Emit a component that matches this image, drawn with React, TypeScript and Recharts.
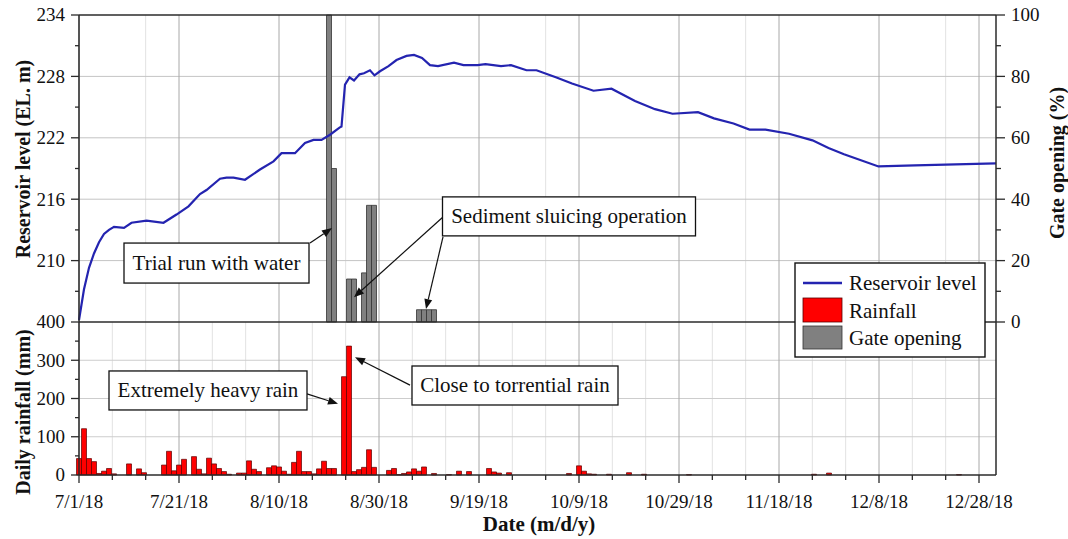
import {
  ComposedChart,
  Line,
  Bar,
  XAxis,
  YAxis,
  CartesianGrid,
  ReferenceLine,
  ReferenceDot,
} from 'recharts'

const FONT = '"Liberation Serif", "Times New Roman", serif'
const AXIS = '#2b2b2b'
const INK = '#111'

// day 0 = 7/1/18, axis runs to the end of December
const X_END = 183.4

// Reservoir level (EL. m)
const levelDay = [
  0, 1, 2, 3, 4, 5, 6, 7, 9, 10.5, 13.5, 16.9, 19.5, 21.9, 24.2, 25.5, 28.2, 29.5, 30.9, 33.2,
  36.2, 38.9, 40.5, 43.2, 45.2, 46.9, 48.5, 50.2, 52.1, 52.5, 53.2, 54.1, 55, 56.1, 57, 58.2,
  59.1, 60.2, 61.9, 63.5, 65.5, 67, 68.6, 70.2, 71.8, 75, 76.9, 79.7, 81.3, 84.4, 86.4, 89.5,
  91.5, 95.5, 98.6, 102.9, 106.5, 111.2, 115.2, 118.7, 123.8, 127, 130.9, 134.1, 137.3, 142,
  146.7, 149.9, 153, 159.9, 167.2, 183.4,
]
const levelM = [
  204.2, 207.2, 209.3, 210.7, 211.8, 212.6, 213.0, 213.3, 213.2, 213.7, 213.9, 213.7, 214.5,
  215.3, 216.5, 216.9, 218.0, 218.1, 218.1, 217.9, 218.9, 219.7, 220.5, 220.5, 221.5, 221.8,
  221.8, 222.3, 223.0, 223.1, 227.2, 227.9, 227.6, 228.2, 228.3, 228.6, 228.1, 228.5, 229.0,
  229.6, 230.0, 230.1, 229.8, 229.1, 229.0, 229.35, 229.1, 229.1, 229.2, 229.0, 229.1, 228.6,
  228.6, 227.9, 227.3, 226.6, 226.8, 225.6, 224.8, 224.35, 224.5, 223.9, 223.4, 222.8, 222.8,
  222.4, 221.75, 221.0, 220.4, 219.2, 219.3, 219.5,
]

// Gate opening (%)
const gateDay = [50, 51, 54, 55, 57, 58, 59, 68, 69, 70, 71]
const gatePct = [100, 50, 14, 14, 16, 38, 38, 4, 4, 4, 4]

// Daily rainfall (mm)
const rainDay = [
  0, 1, 2, 3, 4, 5, 6, 7, 10, 12, 13, 17, 18, 19, 20, 21, 23, 24, 25, 26, 27, 28, 29, 30, 32, 33,
  34, 35, 36, 38, 39, 40, 41, 42, 43, 44, 45, 46, 47, 48, 49, 50, 51, 53, 54, 55, 56, 57, 58, 59,
  62, 63, 64, 65, 66, 67, 68, 69, 71, 74, 76, 78, 82, 83, 84, 86, 98, 100, 101, 102, 103, 106,
  110, 113, 122, 147, 150, 176,
]
const rainMm = [
  43, 121, 43, 35, 4, 10, 17, 3, 29, 16, 6, 26, 62, 11, 26, 41, 48, 15, 3, 44, 29, 17, 9, 2, 5, 5,
  37, 15, 9, 19, 24, 21, 10, 2, 33, 62, 9, 9, 3, 16, 36, 17, 17, 257, 337, 9, 14, 20, 66, 20,
  12, 17, 1, 4, 8, 16, 10, 21, 4, 1, 10, 9, 17, 8, 5, 6, 4, 24, 10, 3, 2, 2,
  6, 2, 1, 2, 5, 1,
]

const xTickLabels = [
  '7/1/18', '7/21/18', '8/10/18', '8/30/18', '9/19/18',
  '10/9/18', '10/29/18', '11/18/18', '12/8/18', '12/28/18',
]
const levelTicks = [207, 210, 213, 216, 219, 222, 225, 228, 231, 234]
const gateTicks = [0, 10, 20, 30, 40, 50, 60, 70, 80, 90, 100]
const rainTicks = [0, 50, 100, 150, 200, 250, 300, 350, 400]

const majorDays = xTickLabels.map((_, i) => i * 20)
const allDays = Array.from({ length: 28 }, (_, k) => (k * 20) / 3)
const minorDays = allDays.filter((_, k) => k % 3 !== 0)

const levelData = levelDay.map((day, i) => ({ day, level: levelM[i] }))
const gateData = gateDay.map((day, i) => ({ day, gate: gatePct[i] }))
const rainData = rainDay.map((day, i) => ({ day, rain: rainMm[i] }))

// annotation boxes, placed in data units of their panel
const topNotes = [
  { text: 'Trial run with water', day: 27.5, y: 19.2, w: 185, h: 40 },
  { text: 'Sediment sluicing operation', day: 98, y: 34.4, w: 253, h: 39 },
]
const topArrows = [
  { from: [46.2, 25.7], to: [50.6, 30.6] },
  { from: [72.8, 34.2], to: [55, 8.1] },
  { from: [72.8, 27.7], to: [69.4, 4.2] },
]
const rainNotes = [
  { text: 'Extremely heavy rain', day: 25.8, y: 221, w: 198, h: 39 },
  { text: 'Close to torrential rain', day: 87.2, y: 234, w: 206, h: 39 },
]
const rainArrows = [
  { from: [45.6, 212], to: [51.8, 186] },
  { from: [66.2, 235], to: [55.2, 308] },
]

interface TickProps {
  x?: number
  y?: number
  payload?: { value: number }
}

function isMajor(v: number, base: number, step: number) {
  const r = (v - base) / step
  return Math.abs(r - Math.round(r)) < 1e-6
}

function LeftTick({ x = 0, y = 0, payload, base, step }: TickProps & { base: number; step: number }) {
  const v = payload?.value ?? 0
  const major = isMajor(v, base, step)
  return (
    <g>
      <line x1={x - (major ? 8 : 4)} y1={y} x2={x} y2={y} stroke={AXIS} strokeWidth={1.3} />
      {major && (
        <text x={x - 14} y={y} dy="0.34em" textAnchor="end" fontFamily={FONT} fontSize={19} fill={INK}>
          {v}
        </text>
      )}
    </g>
  )
}

function RightTick({ x = 0, y = 0, payload }: TickProps) {
  const v = payload?.value ?? 0
  const major = isMajor(v, 0, 20)
  return (
    <g>
      <line x1={x} y1={y} x2={x + (major ? 9 : 5)} y2={y} stroke={AXIS} strokeWidth={1.3} />
      {major && (
        <text x={x + 15} y={y} dy="0.34em" textAnchor="start" fontFamily={FONT} fontSize={19} fill={INK}>
          {v}
        </text>
      )}
    </g>
  )
}

function DateTick({ x = 0, y = 0, payload }: TickProps) {
  const v = payload?.value ?? 0
  const major = isMajor(v, 0, 20)
  return (
    <g>
      <line x1={x} y1={y} x2={x} y2={y + (major ? 8 : 5)} stroke={AXIS} strokeWidth={1.3} />
      {major && (
        <text x={x} y={y + 33} textAnchor="middle" fontFamily={FONT} fontSize={19} fill={INK}>
          {xTickLabels[Math.round(v / 20)]}
        </text>
      )}
    </g>
  )
}

function NoteBox({ cx = 0, cy = 0, text, w, h }: { cx?: number; cy?: number; text: string; w: number; h: number }) {
  return (
    <g>
      <rect x={cx - w / 2} y={cy - h / 2} width={w} height={h} fill="#fff" stroke={INK} strokeWidth={1.3} />
      <text x={cx} y={cy} dy="0.33em" textAnchor="middle" fontFamily={FONT} fontSize={21} fill={INK}>
        {text}
      </text>
    </g>
  )
}

function Arrow(props: { x1?: number | string; y1?: number | string; x2?: number | string; y2?: number | string }) {
  const x1 = Number(props.x1), y1 = Number(props.y1), x2 = Number(props.x2), y2 = Number(props.y2)
  const a = Math.atan2(y2 - y1, x2 - x1)
  const L = 10, W = 4
  const bx = x2 - L * Math.cos(a), by = y2 - L * Math.sin(a)
  const px = -Math.sin(a) * W, py = Math.cos(a) * W
  return (
    <g>
      <line x1={x1} y1={y1} x2={bx} y2={by} stroke={INK} strokeWidth={1.2} />
      <polygon points={`${x2},${y2} ${bx + px},${by + py} ${bx - px},${by - py}`} fill={INK} />
    </g>
  )
}

const title: React.CSSProperties = {
  position: 'absolute',
  fontFamily: FONT,
  fontWeight: 'bold',
  fontSize: 20,
  color: INK,
  whiteSpace: 'nowrap',
  lineHeight: 1,
}

function LegendBox() {
  return (
    <svg width={194} height={98} style={{ position: 'absolute', left: 794, top: 262 }}>
      <rect x={1} y={1} width={190} height={94} fill="#fff" stroke={INK} strokeWidth={1.4} />
      <line x1={9} y1={21} x2={48} y2={21} stroke="#2424b0" strokeWidth={2.4} />
      <rect x={9} y={36} width={39} height={24} fill="#ff0000" stroke="#5a0000" strokeWidth={0.8} />
      <rect x={9} y={64} width={39} height={23} fill="#808080" stroke="#333" strokeWidth={0.8} />
      <g fontFamily={FONT} fontSize={21} fill={INK}>
        <text x={55} y={28}>Reservoir level</text>
        <text x={55} y={56}>Rainfall</text>
        <text x={55} y={83}>Gate opening</text>
      </g>
    </svg>
  )
}

export default function App() {
  return (
    <div style={{ position: 'absolute', left: 0, top: 0, width: 1068, height: 539, background: '#fff' }}>
      {/* Lower panel: daily rainfall */}
      <div style={{ position: 'absolute', left: 0, top: 0 }}>
        <ComposedChart
          width={1068}
          height={539}
          data={rainData}
          margin={{ top: 322, right: 72, bottom: 24, left: 19 }}
          barCategoryGap={0}
          barGap={0}
        >
          <CartesianGrid verticalValues={minorDays} horizontal={false} stroke="#e2e2e2" />
          <CartesianGrid horizontalValues={[100, 200, 300]} vertical={false} stroke="#cdcdcd" />
          <CartesianGrid verticalValues={majorDays} horizontal={false} stroke="#a8a8a8" />
          <XAxis
            dataKey="day"
            type="number"
            domain={[0, X_END]}
            ticks={allDays}
            interval={0}
            height={40}
            tickSize={0}
            tickMargin={0}
            tickLine={false}
            axisLine={{ stroke: AXIS, strokeWidth: 1.5 }}
            tick={(p: TickProps) => <DateTick {...p} />}
          />
          <YAxis
            domain={[0, 400]}
            ticks={rainTicks}
            interval={0}
            width={60}
            tickSize={0}
            tickMargin={0}
            tickLine={false}
            axisLine={{ stroke: AXIS, strokeWidth: 1.5 }}
            tick={(p: TickProps) => <LeftTick {...p} base={0} step={100} />}
          />
          <Bar dataKey="rain" fill="#ff0000" stroke="#5a0000" strokeWidth={0.7} isAnimationActive={false} />
          <ReferenceLine x={X_END} stroke={AXIS} strokeWidth={1.5} ifOverflow="visible" />
          {rainArrows.map((a, i) => (
            <ReferenceLine
              key={`ra${i}`}
              segment={[{ x: a.from[0], y: a.from[1] }, { x: a.to[0], y: a.to[1] }]}
              shape={(p: any) => <Arrow {...p} />}
              ifOverflow="visible"
            />
          ))}
          {rainNotes.map((n) => (
            <ReferenceDot
              key={n.text}
              x={n.day}
              y={n.y}
              r={1}
              ifOverflow="visible"
              shape={(p: any) => <NoteBox cx={p.cx} cy={p.cy} text={n.text} w={n.w} h={n.h} />}
            />
          ))}
        </ComposedChart>
      </div>

      {/* Upper panel: reservoir level + gate opening */}
      <div style={{ position: 'absolute', left: 0, top: 0 }}>
        <ComposedChart
          width={1068}
          height={345}
          data={gateData}
          margin={{ top: 15, right: 12, bottom: 23, left: 19 }}
          barCategoryGap={0}
          barGap={0}
        >
          <CartesianGrid xAxisId="bx" yAxisId="g" verticalValues={minorDays} horizontal={false} stroke="#e2e2e2" />
          <CartesianGrid xAxisId="bx" yAxisId="g" horizontalValues={[20, 40, 60, 80]} vertical={false} stroke="#c4c4c4" />
          <CartesianGrid xAxisId="bx" yAxisId="g" verticalValues={majorDays} horizontal={false} stroke="#a8a8a8" />
          <XAxis xAxisId="bx" dataKey="day" type="number" domain={[0, X_END]} hide />
          <XAxis xAxisId="lx" dataKey="day" type="number" domain={[0, X_END]} hide />
          <YAxis
            yAxisId="lv"
            domain={[204, 234]}
            ticks={levelTicks}
            interval={0}
            width={60}
            tickSize={0}
            tickMargin={0}
            tickLine={false}
            axisLine={{ stroke: AXIS, strokeWidth: 1.5 }}
            tick={(p: TickProps) => <LeftTick {...p} base={204} step={6} />}
          />
          <YAxis
            yAxisId="g"
            orientation="right"
            domain={[0, 100]}
            ticks={gateTicks}
            interval={0}
            width={60}
            tickSize={0}
            tickMargin={0}
            tickLine={false}
            axisLine={{ stroke: AXIS, strokeWidth: 1.5 }}
            tick={(p: TickProps) => <RightTick {...p} />}
          />
          <Bar
            xAxisId="bx"
            yAxisId="g"
            dataKey="gate"
            fill="#808080"
            stroke="#333"
            strokeWidth={0.8}
            isAnimationActive={false}
          />
          <Line
            xAxisId="lx"
            yAxisId="lv"
            data={levelData}
            dataKey="level"
            type="linear"
            stroke="#2424b0"
            strokeWidth={2.2}
            dot={false}
            isAnimationActive={false}
          />
          <ReferenceLine xAxisId="bx" yAxisId="g" y={100} stroke={AXIS} strokeWidth={1.5} ifOverflow="visible" />
          <ReferenceLine xAxisId="bx" yAxisId="g" y={0} stroke={AXIS} strokeWidth={1.5} ifOverflow="visible" />
          {topArrows.map((a, i) => (
            <ReferenceLine
              key={`ta${i}`}
              xAxisId="bx"
              yAxisId="g"
              segment={[{ x: a.from[0], y: a.from[1] }, { x: a.to[0], y: a.to[1] }]}
              shape={(p: any) => <Arrow {...p} />}
              ifOverflow="visible"
            />
          ))}
          {topNotes.map((n) => (
            <ReferenceDot
              key={n.text}
              xAxisId="bx"
              yAxisId="g"
              x={n.day}
              y={n.y}
              r={1}
              ifOverflow="visible"
              shape={(p: any) => <NoteBox cx={p.cx} cy={p.cy} text={n.text} w={n.w} h={n.h} />}
            />
          ))}
        </ComposedChart>
      </div>

      <LegendBox />

      <div style={{ ...title, left: 23, top: 159, transform: 'translate(-50%, -50%) rotate(-90deg)' }}>
        Reservoir level (EL. m)
      </div>
      <div style={{ ...title, left: 23, top: 412, transform: 'translate(-50%, -50%) rotate(-90deg)' }}>
        Daily rainfall (mm)
      </div>
      <div style={{ ...title, left: 1057, top: 163, transform: 'translate(-50%, -50%) rotate(-90deg)' }}>
        Gate opening (%)
      </div>
      <div style={{ ...title, fontSize: 21, left: 539, top: 524, transform: 'translate(-50%, -50%)' }}>
        Date (m/d/y)
      </div>
    </div>
  )
}
